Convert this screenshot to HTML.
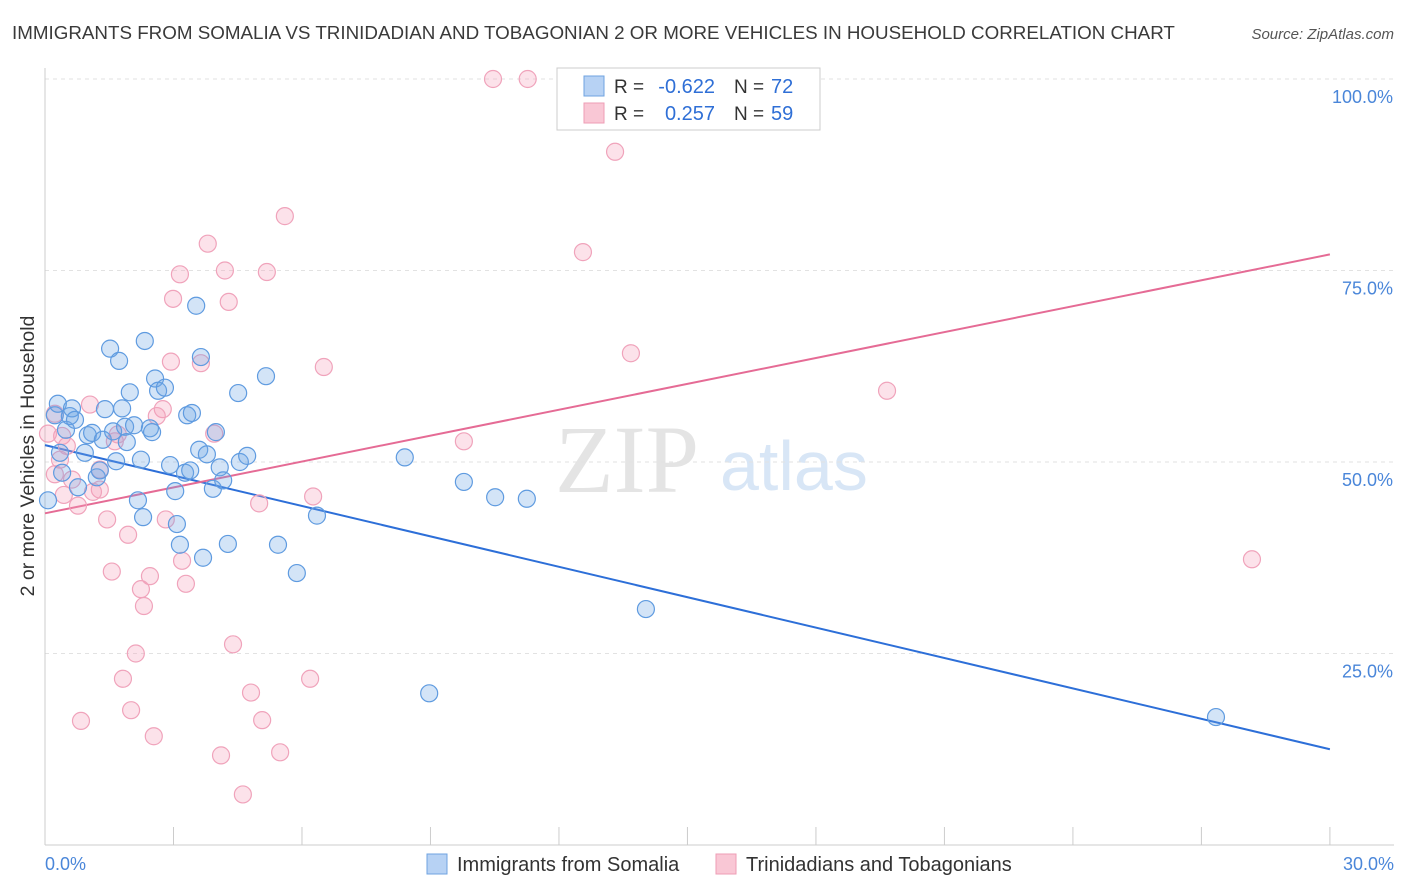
<!DOCTYPE html>
<html><head><meta charset="utf-8"><style>
body{margin:0;background:#fff;font-family:"Liberation Sans",sans-serif;}
svg{display:block}
</style></head><body>
<svg id="chart" width="1406" height="892" xmlns="http://www.w3.org/2000/svg">
<text x="12" y="39" font-size="18.8" fill="#3a3a3a">IMMIGRANTS FROM SOMALIA VS TRINIDADIAN AND TOBAGONIAN 2 OR MORE VEHICLES IN HOUSEHOLD CORRELATION CHART</text>
<text x="1394" y="39" font-size="15" fill="#555" text-anchor="end" font-style="italic">Source: ZipAtlas.com</text>
<g>
<text x="555" y="492" font-size="96" fill="#e4e4e4" font-family="Liberation Serif,serif">ZIP</text>
<text x="720" y="490" font-size="70" fill="#d8e6f6">atlas</text>
</g>
<g id="grid"></g><g id="axes"></g><g id="lines"></g><g id="pts"></g>
<text transform="translate(34,456) rotate(-90)" font-size="19.5" fill="#333" text-anchor="middle">2 or more Vehicles in Household</text>
<g>
<rect x="557" y="68" width="263" height="62" fill="#fff" stroke="#ccc"/>
<rect x="584" y="76" width="20" height="20" fill="#b7d2f4" stroke="#6fa3e0"/>
<rect x="584" y="103" width="20" height="20" fill="#f9c7d5" stroke="#ee9db5"/>
<text x="614" y="93" font-size="19" fill="#333">R =</text>
<text x="715" y="93" font-size="20" fill="#2f6fd6" text-anchor="end">-0.622</text>
<text x="734" y="93" font-size="19" fill="#333">N =</text>
<text x="771" y="93" font-size="20" fill="#2f6fd6">72</text>
<text x="614" y="120" font-size="19" fill="#333">R =</text>
<text x="715" y="120" font-size="20" fill="#2f6fd6" text-anchor="end">0.257</text>
<text x="734" y="120" font-size="19" fill="#333">N =</text>
<text x="771" y="120" font-size="20" fill="#2f6fd6">59</text>
</g>
<g>
<rect x="427" y="854" width="20" height="20" fill="#b7d2f4" stroke="#6fa3e0"/>
<text x="457" y="871" font-size="20" fill="#333">Immigrants from Somalia</text>
<rect x="716" y="854" width="20" height="20" fill="#f9c7d5" stroke="#ee9db5"/>
<text x="746" y="871" font-size="20" fill="#333">Trinidadians and Tobagonians</text>
</g>
</svg>
<script>
const yTicks=[25,50,75,100];
const yTickLabels=["25.0%","50.0%","75.0%","100.0%"];
const xTicks=[0,3,6,9,12,15,18,21,24,27,30];
const blueX=[0.07,0.23,0.3,0.35,0.4,0.49,0.58,0.63,0.7,0.77,0.93,1.0,1.1,1.21,1.28,1.35,1.4,1.52,1.59,1.66,1.73,1.8,1.87,1.91,1.98,2.08,2.17,2.24,2.29,2.33,2.45,2.5,2.57,2.64,2.8,2.92,3.04,3.08,3.15,3.27,3.32,3.39,3.43,3.53,3.6,3.64,3.69,3.78,3.92,3.99,4.08,4.16,4.27,4.51,4.55,4.72,5.16,5.44,5.88,6.35,8.4,8.97,9.78,10.51,11.25,14.03,27.34];
const blueY=[45.0,56.1,57.6,51.2,48.6,54.2,56.0,57.0,55.5,46.7,51.2,53.5,53.8,48.0,48.9,52.9,56.9,64.8,54.0,50.1,63.2,57.0,54.6,52.6,59.1,54.8,45.0,50.3,42.8,65.8,54.4,53.9,60.9,59.3,59.7,49.6,46.2,41.9,39.2,48.6,56.1,48.9,56.4,70.4,51.6,63.7,37.5,51.0,46.5,53.9,49.3,47.6,39.3,59.0,50.0,50.8,61.2,39.2,35.5,43.0,50.6,19.8,47.4,45.4,45.2,30.8,16.7];
const pinkX=[10.46,11.27,13.31,5.6,3.8,3.15,4.2,5.18,2.99,4.29,12.56,13.68,6.51,3.64,2.94,19.66,1.05,2.75,2.61,3.95,0.23,0.4,0.51,1.63,1.7,9.78,0.35,0.23,0.63,1.28,1.28,1.12,0.44,0.77,6.26,5.0,1.45,2.82,1.94,3.2,1.56,2.45,2.24,3.29,2.31,4.39,2.12,1.82,4.81,6.19,2.01,5.07,0.84,2.54,4.11,5.49,4.62,28.18,0.07];
const pinkY=[100,100,90.5,82.1,78.5,74.5,75.0,74.8,71.3,70.9,77.4,64.2,62.4,62.9,63.1,59.3,57.5,56.9,56.0,53.7,56.3,53.4,52.1,52.7,53.6,52.7,50.3,48.4,47.7,49.0,46.4,46.1,45.7,44.3,45.5,44.6,42.5,42.5,40.5,37.1,35.7,35.1,33.4,34.1,31.2,26.2,25.0,21.7,19.9,21.7,17.6,16.3,16.2,14.2,11.7,12.1,6.6,37.3,53.7];
const blueLine=[52.2,12.5], pinkLine=[43.3,77.1];
const X=v=>45+v*42.83, Y=v=>79+(100-v)*7.66;
const NS="http://www.w3.org/2000/svg";
function mk(tag,attrs,parent){const e=document.createElementNS(NS,tag);for(const k in attrs)e.setAttribute(k,attrs[k]);document.getElementById(parent).appendChild(e);return e;}
yTicks.forEach((t,i)=>{
 const g=mk('line',{x1:45,x2:1394,y1:Y(t),y2:Y(t),stroke:'#e2e2e2','stroke-dasharray':'4,4'},'grid');
 
 
 const l=mk('text',{x:1393,y:Y(t)+24,'font-size':18,fill:'#4a86d9','text-anchor':'end'},'grid');
 l.textContent=yTickLabels[i];
 
 
});
const xa=mk('line',{x1:45,x2:1394,y1:845,y2:845,stroke:'#ccc'},'axes');


const ya=mk('line',{x1:45,x2:45,y1:68,y2:845,stroke:'#ccc'},'axes');


xTicks.forEach(t=>{const e=mk('line',{x1:X(t),x2:X(t),y1:827,y2:845,stroke:'#ccc'},'axes');
 
 });
const xl0=mk('text',{x:45,y:870,'font-size':18,fill:'#4a86d9'},'axes');xl0.textContent='0.0%';


const xl1=mk('text',{x:1394,y:870,'font-size':18,fill:'#4a86d9','text-anchor':'end'},'axes');xl1.textContent='30.0%';


function pts(xs,ys,fill,stroke,name){xs.forEach((x,i)=>{const c=mk('circle',{cx:X(x),cy:Y(ys[i]),r:8.5,fill:fill,stroke:stroke,'stroke-width':1.2},'pts');
 
 });}
pts(pinkX,pinkY,'rgba(245,160,185,0.3)','#f0a3bb','point-trinidadian');
pts(blueX,blueY,'rgba(110,165,230,0.3)','#5f9be0','point-somalia');
const bl=mk('line',{x1:X(0),y1:Y(blueLine[0]),x2:X(30),y2:Y(blueLine[1]),stroke:'#2d6fd8','stroke-width':2},'lines');


const pl=mk('line',{x1:X(0),y1:Y(pinkLine[0]),x2:X(30),y2:Y(pinkLine[1]),stroke:'#e56b95','stroke-width':2},'lines');


</script>
</body></html>
